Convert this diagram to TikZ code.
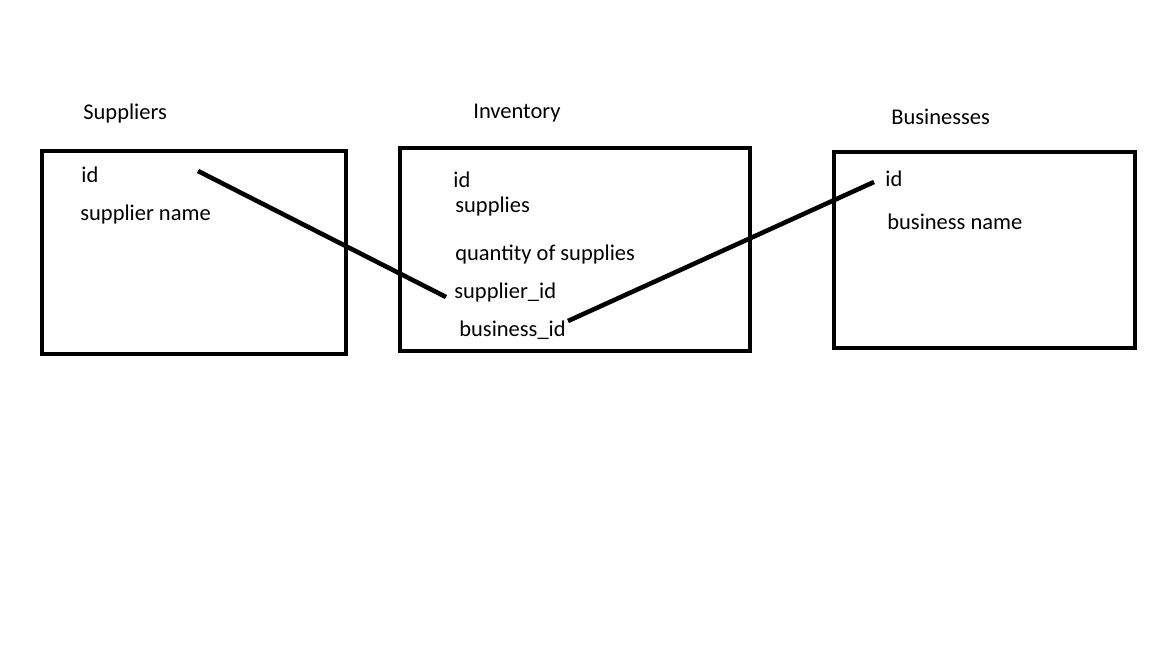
\documentclass[tikz,border=0pt]{standalone}
\usepackage{fontspec}
\setmainfont{Carlito}

\begin{document}
\begin{tikzpicture}[x=0.02cm,y=-0.02cm,
  table/.style={draw,line width=2.4pt},
  field/.style={anchor=west,inner sep=0pt,font=\fontsize{12.8}{14}\selectfont},
  link/.style={line width=2.6pt}]
\useasboundingbox (0,0) rectangle (1152,648);
% tables
\draw[table] (42,151) rectangle (346,354);
\draw[table] (400,148) rectangle (750,351);
\draw[table] (834,152) rectangle (1135,348);
% titles
\node[field] (suppliers) at (83,114) {Suppliers};
\node[field] (inventory) at (473,113) {Inventory};
\node[field] (businesses) at (891,117) {Businesses};
% fields
\node[field] (sid) at (81,175) {id};
\node[field] (sname) at (80,215) {supplier name};
\node[field] (iid) at (453,180) {id};
\node[field] (isupplies) at (455,207) {supplies};
\node[field] (iqty) at (455,255) {quantity of supplies};
\node[field] (isupid) at (454,293) {supplier\_id};
\node[field] (ibusid) at (459,330) {business\_id};
\node[field] (bid) at (885,179) {id};
\node[field] (bname) at (887,222) {business name};
% links
\coordinate (s1) at (198,171);
\coordinate (s2) at (446,297);
\coordinate (b1) at (568,321);
\coordinate (b2) at (874,182);
\draw[link] (s1) -- (s2);
\draw[link] (b1) -- (b2);
\end{tikzpicture}
\end{document}
